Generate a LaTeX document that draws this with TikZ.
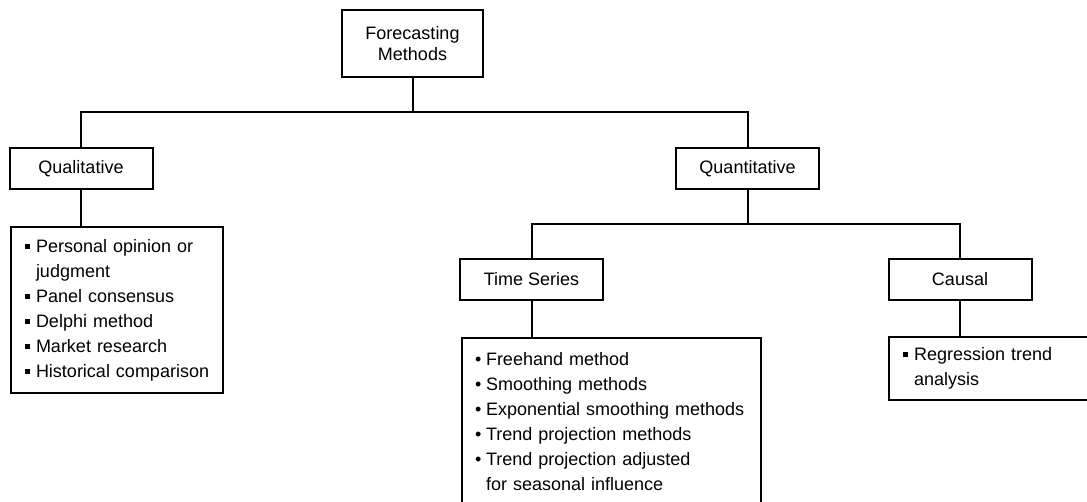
\documentclass[tikz,border=0pt]{standalone}
\usepackage{fontspec}
\setmainfont{Liberation Sans}
\newcommand{\sqbul}{\makebox[12pt][l]{\hspace{1pt}\rule[3.5pt]{5pt}{5pt}}}
\newcommand{\rdbul}{\makebox[12pt][l]{\hspace{1pt}•}}

\begin{document}
\begin{tikzpicture}[x=1pt,y=-1pt,line width=2pt,
    font=\fontsize{18}{25}\selectfont,
    lbl/.style={draw,minimum width=143pt,minimum height=41pt,inner sep=0pt},
    lst/.style={draw,anchor=north west,align=left,inner xsep=13pt,inner ysep=0pt}]
        \useasboundingbox (0,0) rectangle (1087,501);
        \node[lbl,minimum width=141pt,minimum height=67pt,align=center,
          font=\fontsize{18}{21}\selectfont] (fm) at (412.5,43.5) {Forecasting\\Methods};
        \foreach \n/\x/\y/\t in {qual/81/168.5/Qualitative,quant/747.5/168.5/Quantitative,
          ts/531.5/279.5/Time Series,causal/960/279.5/Causal}{
          \node[lbl] (\n) at (\x,\y) {\t};}
        \node[lst,text width=186pt,minimum height=166pt] (qlist) at (10,226)
          {\sqbul Personal opinion or\\\hspace*{12pt}judgment\\\sqbul Panel consensus\\
           \sqbul Delphi method\\\sqbul Market research\\\sqbul Historical comparison};
        \node[lst,inner xsep=12pt,text width=275pt,minimum height=168pt] (tslist) at (461,337)
          {\rdbul Freehand method\\\rdbul Smoothing methods\\\rdbul Exponential smoothing methods\\
           \rdbul Trend projection methods\\\rdbul Trend projection adjusted\\\hspace*{12pt}for seasonal influence};
        \node[lst,text width=186pt,minimum height=63pt] (clist) at (888,336)
          {\sqbul Regression trend\\\hspace*{12pt}analysis};
        \coordinate (bus1) at (412.5,112);
        \coordinate (bus2) at (747.5,224);
        \draw (fm) -- (bus1);
        \draw (qual.north) |- (bus1) -| (quant.north);
        \draw (quant) -- (bus2);
        \draw (ts.north) |- (bus2) -| (causal.north);
        \draw (qual) -- (qual |- qlist.north);
        \draw (ts) -- (ts |- tslist.north);
        \draw (causal) -- (causal |- clist.north);
      \end{tikzpicture}
\end{document}
